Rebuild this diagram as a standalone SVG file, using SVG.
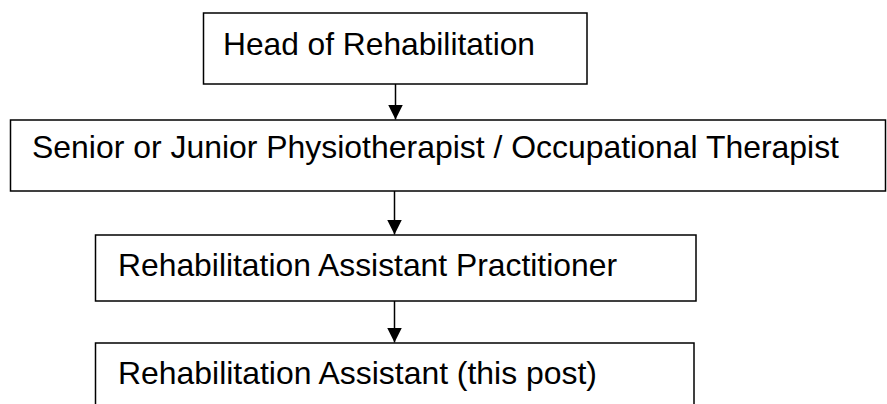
<svg xmlns="http://www.w3.org/2000/svg" width="887" height="404" viewBox="0 0 887 404">
  <style>
    .box { fill: #ffffff; stroke: #000000; stroke-width: 1.5; }
    .lbl { font-family: "Liberation Sans", Arial, sans-serif; font-size: 31.5px; fill: #000000; }
    .conn { stroke: #000000; stroke-width: 1.5; fill: none; }
  </style>
  <defs>
    <marker id="arrow" markerUnits="userSpaceOnUse" markerWidth="16" markerHeight="15" refX="15" refY="7.5" orient="auto">
      <path d="M0,0 L15,7.5 L0,15 Z" fill="#000000"/>
    </marker>
  </defs>
  <rect width="887" height="404" fill="#ffffff"/>
  <g id="connectors">
    <line class="conn" x1="395.5" y1="84" x2="395.5" y2="119.5" marker-end="url(#arrow)"/>
    <line class="conn" x1="394.5" y1="191" x2="394.5" y2="234.5" marker-end="url(#arrow)"/>
    <line class="conn" x1="394.5" y1="301" x2="394.5" y2="342.5" marker-end="url(#arrow)"/>
  </g>
  <g id="head">
    <rect class="box" x="203.5" y="13" width="383.5" height="71"/>
    <text class="lbl" x="223" y="55" textLength="312" lengthAdjust="spacingAndGlyphs">Head of Rehabilitation</text>
  </g>
  <g id="therapist">
    <rect class="box" x="10.5" y="120" width="875" height="71"/>
    <text class="lbl" x="32" y="158" textLength="807" lengthAdjust="spacingAndGlyphs">Senior or Junior Physiotherapist / Occupational Therapist</text>
  </g>
  <g id="practitioner">
    <rect class="box" x="95.5" y="235" width="600.5" height="66"/>
    <text class="lbl" x="118" y="276" textLength="499" lengthAdjust="spacingAndGlyphs">Rehabilitation Assistant Practitioner</text>
  </g>
  <g id="assistant">
    <rect class="box" x="95.5" y="343" width="598.5" height="80"/>
    <text class="lbl" x="118" y="384" textLength="479" lengthAdjust="spacingAndGlyphs">Rehabilitation Assistant (this post)</text>
  </g>
</svg>
